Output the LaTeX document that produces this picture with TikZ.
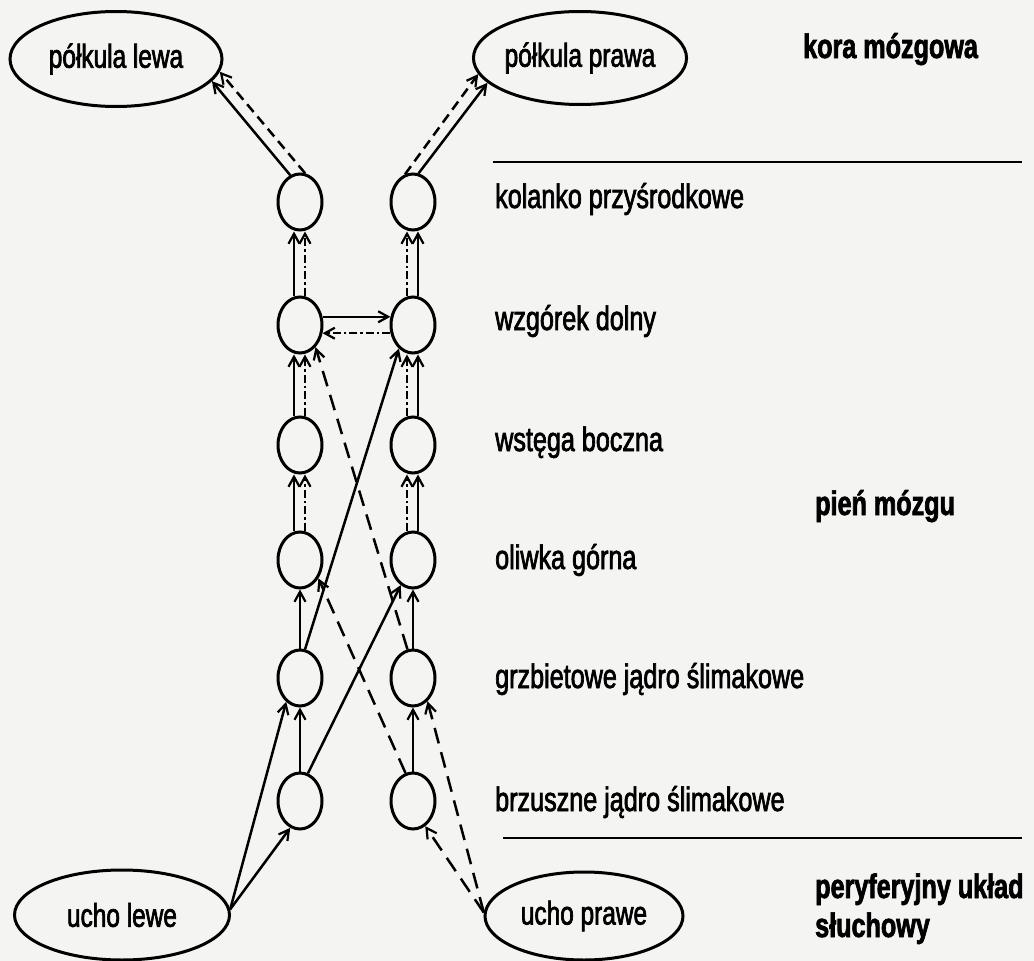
\documentclass[tikz,border=0pt]{standalone}
\usepackage{fontspec}
\setmainfont{Liberation Sans}[FakeStretch=0.74,FakeBold=2]
\usetikzlibrary{arrows.meta,shapes.geometric,calc}
\definecolor{bg}{RGB}{244,244,242}
\begin{document}
\begin{tikzpicture}[x=1pt,y=-1pt,
  nuc/.style={draw,ellipse,line width=3pt,minimum width=44pt,minimum height=56pt,inner sep=0pt},
  big/.style={draw,ellipse,line width=3pt,inner sep=0pt,font=\fontsize{33}{38}\selectfont},
  lab/.style={anchor=base west,inner sep=0pt,font=\fontsize{34}{40}\selectfont},
  blab/.style={anchor=base west,inner sep=0pt,font=\fontsize{34}{40}\selectfont\bfseries},
  con/.style={line width=2.5pt,-{Straight Barb[length=10pt,width=11pt,line width=2.2pt]}},
  dsh/.style={con,dash pattern=on 16pt off 9pt},
  dshb/.style={con,dash pattern=on 10pt off 6pt},
  dd/.style={con,dash pattern=on 8pt off 3pt on 2.5pt off 3pt},
  rule/.style={line width=2.8pt}]
\fill[bg] (0,0) rectangle (1034,961);
\useasboundingbox (0,0) rectangle (1034,961);

% large ellipses
\node[big,minimum width=212pt,minimum height=95pt] (PL) at (116,59) {półkula lewa};
\node[big,minimum width=194pt,minimum height=93pt] (PR) at (580,58) {półkula prawa};
\node[big,minimum width=215pt,minimum height=90pt] (UL) at (122,915) {ucho lewe};
\node[big,minimum width=198pt,minimum height=88pt] (UR) at (584,916) {ucho prawe};

% nuclei
\foreach \n/\y in {K/202,W/325,S/445,O/560,G/678,B/801}{
  \node[nuc] (\n1) at (300,\y) {};
  \node[nuc] (\n2) at (413,\y) {};
}

% vertical paired pathways
\foreach \lo/\up in {W/K,S/W,O/S}{
  \draw[con] ($(\lo1.north)+(-6,0)$) -- ($(\up1.south)+(-6,0)$);
  \draw[dd]  ($(\lo1.north)+(5,0)$)  -- ($(\up1.south)+(5,0)$);
  \draw[dd]  ($(\lo2.north)+(-6,0)$) -- ($(\up2.south)+(-6,0)$);
  \draw[con] ($(\lo2.north)+(5,0)$)  -- ($(\up2.south)+(5,0)$);
}
% single vertical pathways
\foreach \lo/\up in {G/O,B/G}{
  \draw[con] (\lo1.north) -- (\up1.south);
  \draw[con] (\lo2.north) -- (\up2.south);
}

% commissure between wzgorki
\draw[con] (W1.20) -- (W2.160);
\draw[dd] (W2.200) -- (W1.-20);

% crossing pathways
\draw[con] (B1.74) -- (O2.244);
\draw[con] (G1.80) -- (W2.239);
\draw[dsh] (G2.101) -- (W1.-55);
\draw[dsh] (B2.105) -- (O1.-45);

% to cortex
\draw[con] (K1.110) -- (PL.-13);
\draw[dshb] (K1.80) -- (PL.-7);
\draw[con] (K2.79) -- (PR.195);
\draw[dshb] (K2.106) -- (PR.189);

% from ears
\draw[con] (UL.3) -- (G1.240);
\draw[con] (UL.3) -- (B1.250);
\draw[dsh] (UR.178) -- (G2.-58);
\draw[dsh] (UR.178) -- (B2.-64);

% rules
\coordinate (r1a) at (493,162); \coordinate (r1b) at (1022,162);
\coordinate (r2a) at (503,838); \coordinate (r2b) at (1022,838);
\draw[rule] (r1a) -- (r1b);
\draw[rule] (r2a) -- (r2b);

% labels
\node[lab] (t1) at (495,208) {kolanko przyśrodkowe};
\node[lab] (t2) at (495,330) {wzgórek dolny};
\node[lab] (t3) at (495,451) {wstęga boczna};
\node[lab] (t4) at (495,569) {oliwka górna};
\node[lab] (t5) at (495,688) {grzbietowe jądro ślimakowe};
\node[lab] (t6) at (495,811) {brzuszne jądro ślimakowe};
\node[blab] (t7) at (803,58) {kora mózgowa};
\node[blab] (t8) at (815,515) {pień mózgu};
\node[blab] (t9) at (815,898) {peryferyjny układ};
\node[blab] (t10) at (815,937) {słuchowy};
\end{tikzpicture}
\end{document}
